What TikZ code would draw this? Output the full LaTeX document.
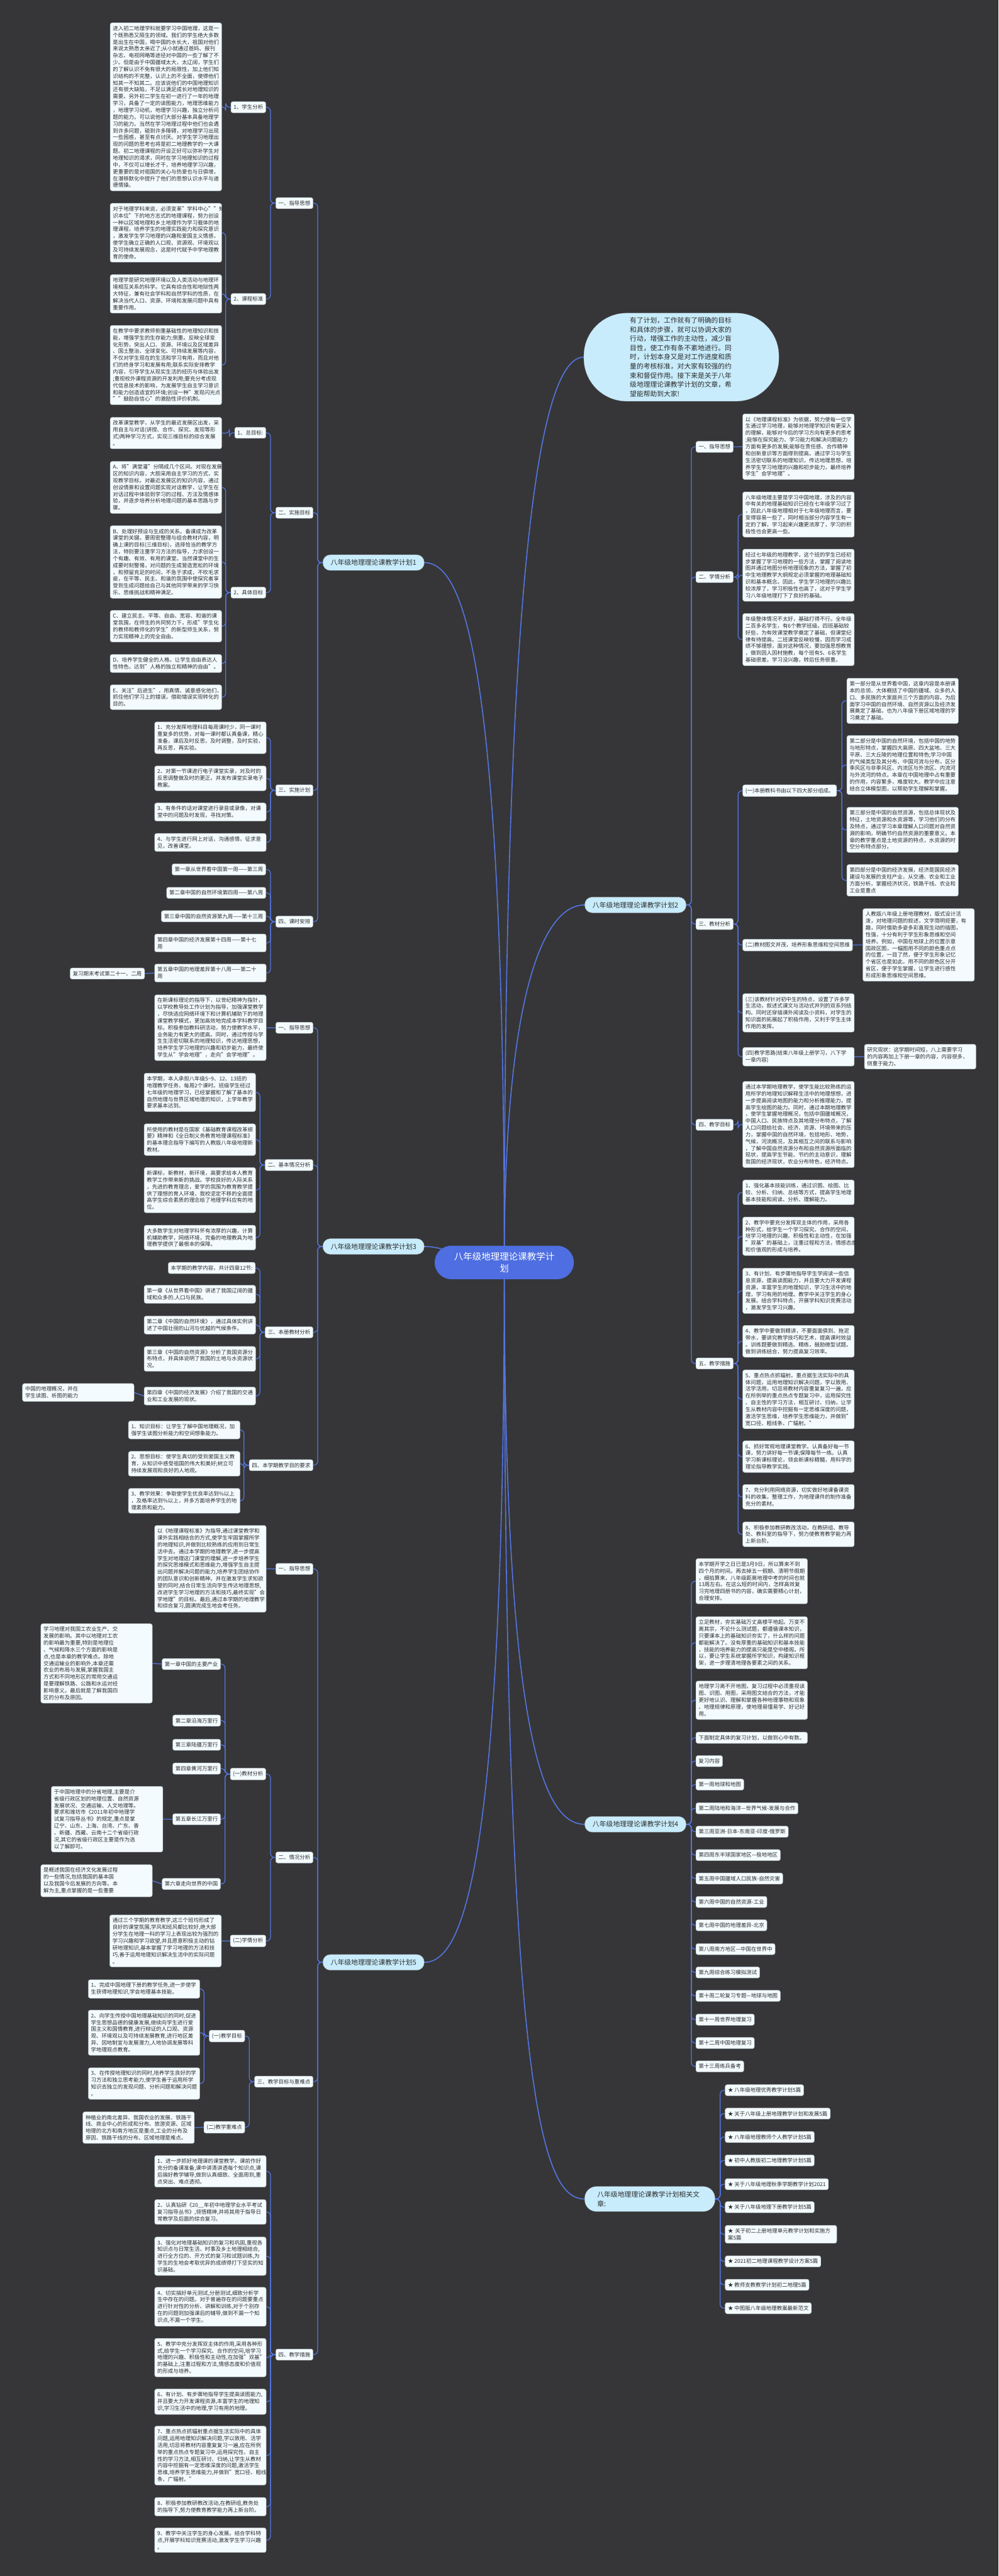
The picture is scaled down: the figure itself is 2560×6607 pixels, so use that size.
\documentclass[tikz,border=0pt]{standalone}
\usepackage{fontspec}
\setmainfont{Noto Sans CJK SC}
\usetikzlibrary{positioning}
\definecolor{bgc}{RGB}{54,54,56}
\definecolor{linkc}{RGB}{84,117,224}
\definecolor{boxc}{RGB}{243,251,254}
\definecolor{boxline}{RGB}{170,180,190}
\definecolor{brc}{RGB}{200,236,251}
\definecolor{rootc}{RGB}{78,110,225}
\definecolor{txtc}{RGB}{45,45,45}
\pgfdeclarelayer{bg}
\pgfsetlayers{bg,main}
\newcommand\mmbody{\fontsize{13.6pt}{17.5pt}\selectfont}
\newcommand\mmbranch{\fontsize{17.5pt}{23.5pt}\selectfont}

\begin{document}
\begin{tikzpicture}[x=1pt,y=-1pt,
    box/.style={draw=boxline, fill=boxc, line width=0.8pt, rounded corners=5pt, inner xsep=7pt, inner ysep=8pt, text width=272pt, align=left, font=\mmbody, text=txtc},
    tag/.style={draw=boxline, fill=boxc, line width=0.8pt, rounded corners=5pt, inner xsep=7pt, inner ysep=8pt, font=\mmbody, text=txtc},
    branch/.style={draw=boxline, fill=brc, line width=0.8pt, rounded corners=19pt, inner xsep=20pt, minimum height=40pt, font=\mmbranch, text=txtc},
    link/.style={draw=linkc, line width=2pt, rounded corners=10pt},
    mainlink/.style={draw=linkc, line width=2.6pt}]
\useasboundingbox (0,0) rectangle (2560,6607);

% root and intro
\node[fill=rootc, text=white, rounded corners=43pt, minimum width=357pt, minimum height=86pt, align=center, font=\fontsize{23.4pt}{31pt}\selectfont] (root) at (1293,3238) {八年级地理理论课教学计\\划};
\node[draw=boxline, fill=brc, rounded corners=110pt, minimum width=500pt, minimum height=226pt, text width=264pt, align=left, font=\fontsize{17.4pt}{23.4pt}\selectfont, text=txtc] (intro) at (1747,916) {有了计划，工作就有了明确的目标\\和具体的步骤，就可以协调大家的\\行动，增强工作的主动性，减少盲\\目性，使工作有条不紊地进行。同\\时，计划本身又是对工作进度和质\\量的考核标准，对大家有较强的约\\束和督促作用。接下来是关于八年\\级地理理论课教学计划的文章，希\\望能帮助到大家!};

% ---------- plan 1 ----------
\node[branch, anchor=east] (p1) at (1088,1443) {八年级地理理论课教学计划1};
\node[tag, anchor=east] (p1a) at (803,521) {一、指导思想};
\node[tag, anchor=east] (p1a1) at (682,275) {1、学生分析};
\node[box, anchor=north west] (p1a1t) at (282,58) {进入初二地理学科就要学习中国地理，这是一\\个既熟悉又陌生的领域。我们的学生绝大多数\\是出生在中国，喝中国的水长大，祖国对他们\\来说太熟悉太亲近了;从小就通过爸妈、报刊\\杂志、电视网略等途径对中国的一些了解了不\\少。但是由于中国疆域太大，太辽阔，学生们\\的了解认识不免有很大的局限性，加上他们知\\识结构的不完整，认识上的不全面，使得他们\\知其一不知其二。应该说他们的中国地理知识\\还有很大缺陷，不足以满足成长对地理知识的\\需要。另外初二学生在初一进行了一年的地理\\学习，具备了一定的读图能力，地理思维能力\\，地理学习动机，地理学习兴趣，独立分析问\\题的能力。可以说他们大部分基本具备地理学\\习的能力。当然在学习地理过程中他们也会遇\\到许多问题，碰到许多障碍，对地理学习出现\\一些困惑，甚至有点讨厌。对学生学习地理出\\现的问题的思考也将是初二地理教学的一大课\\题。初二地理课程的开设正好可以弥补学生对\\地理知识的渴求，同时在学习地理知识的过程\\中，不仅可以增长才干，培养地理学习兴趣，\\更重要的是对祖国的关心与热爱也与日俱增，\\在潜移默化中提升了他们的思想认识水平与道\\德情操。};
\node[tag, anchor=east] (p1a2) at (682,767) {2、课程标准};
\node[box, anchor=north west] (p1a2a) at (282,521) {对于地理学科来说，必须变革"学科中心""知\\识本位"下的地方志式的地理课程，努力创设\\一种以区域地理和乡土地理作为学习载体的地\\理课程，培养学生的地理实践能力和探究意识\\，激发学生学习地理的兴趣和爱国主义情感，\\使学生确立正确的人口观、资源观、环境观以\\及可持续发展观念，这是时代赋予中学地理教\\育的使命。};
\node[box, anchor=north west] (p1a2b) at (282,704) {地理学是研究地理环境以及人类活动与地理环\\境相互关系的科学。它具有综合性和地狱性两\\大特征，兼有社会学科和自然学科的性质，在\\解决当代人口、资源、环境和发展问题中具有\\重要作用。};
\node[box, anchor=north west] (p1a2c) at (282,834) {在教学中要求教师侧重基础性的地理知识和技\\能，增强学生的生存能力;侧重。反映全球变\\化形势，突出人口、资源、环境以及区域差异\\、国土整治、全球变化、可持续发展等内容，\\不仅对学生现在的生活和学习有用，而且对他\\们的终身学习和发展有用;联系实际安排教学\\内容，引导学生从现实生活的经历与体验出发\\;重视校外课程资源的开发利用;要充分考虑现\\代信息技术的影响，为发展学生自主学习意识\\和能力创造适宜的环境;创设一种"发现闪光点\\""鼓励自信心"的激励性评价机制。};
\node[tag, anchor=east] (p1b) at (803,1315) {二、实施目标};
\node[tag, anchor=east] (p1b1) at (682,1110) {1、总目标:};
\node[box, anchor=north west] (p1b1t) at (282,1070) {改革课堂教学，从学生的最近发展区出发，采\\用自主与对话(讲授、合作、探究、发现等形\\式)两种学习方式，实现三维目标的综合发展\\。};
\node[tag, anchor=east] (p1b2) at (682,1520) {2、具体目标};
\node[box, anchor=north west] (p1b2a) at (282,1183) {A、将"满堂灌"分隔成几个区间。对现在发展\\区的知识内容，大胆采用自主学习的方式，实\\现教学目标。对最近发展区的知识内容，通过\\创设情景和设置问题实现对话教学，让学生在\\对话过程中体验到学习的过程、方法及情感体\\验，并逐步培养分析地理问题的基本思路与步\\骤。};
\node[box, anchor=north west] (p1b2b) at (282,1348) {B、处理好预设与生成的关系。备课成为改革\\课堂的关键。要周密整理与组合教材内容，明\\确上课的目标(三维目标)，选择恰当的教学方\\法，特别要注重学习方法的指导，力求创设一\\个有趣、有效、有用的课堂。当然课堂中的生\\成要时刻警惕，对问题的生成营造宽松的环境\\，和预留充足的时间，不急于求成，不吹毛求\\疵，在平等、民主、和谐的氛围中使探究者享\\受到生成问题给自己与其他同学带来的学习快\\乐、思维挑战和精神满足。};
\node[box, anchor=north west] (p1b2c) at (282,1565) {C、建立民主、平等、自由、宽容、和谐的课\\堂氛围，在师生的共同努力下，形成"学生化\\的教师和教师化的学生"的新型师生关系，努\\力实现精神上的完全自由。};
\node[box, anchor=north west] (p1b2d) at (282,1678) {D、培养学生健全的人格，让学生自由表达人\\性特色，达到"人格的独立和精神的自由"。};
\node[box, anchor=north west] (p1b2e) at (282,1756) {E、关注"后进生"，用真情、诚意感化他们，\\抓住他们学习上的错误，借助错误实现转化的\\目的。};
\node[tag, anchor=east] (p1c) at (803,2027) {三、实施计划};
\node[box, anchor=north west] (p1c1) at (396,1851) {1、充分发挥地理科目每周课时少，同一课时\\重复多的优势，对每一课时都认真备课，精心\\准备，课后及时反思，及时调整，及时实验，\\再反思，再实验。};
\node[box, anchor=north west] (p1c2) at (396,1964) {2、对第一节课进行电子课堂实录，对及时的\\反思调整做及时的更正。并发布课堂实录电子\\教案。};
\node[box, anchor=north west] (p1c3) at (396,2059) {3、有条件的话对课堂进行录音或录像，对课\\堂中的问题及时发现，寻找对策。};
\node[box, anchor=north west] (p1c4) at (396,2137) {4、与学生进行网上对话，沟通感情，征求意\\见，改善课堂。};
\node[tag, anchor=east] (p1d) at (803,2364) {四、课时安排};
\node[tag, anchor=east] (p1d1) at (682,2230) {第一章从世界看中国第一周——第三周};
\node[tag, anchor=east] (p1d2) at (682,2290) {第二章中国的自然环境第四周——第八周};
\node[tag, anchor=east] (p1d3) at (682,2350) {第三章中国的自然资源第九周——第十三周};
\node[box, anchor=north west] (p1d4) at (396,2395) {第四章中国的经济发展第十四周——第十七\\周};
\node[box, anchor=north west] (p1d5) at (396,2472) {第五章中国的地理差异第十八周——第二十\\周};
\node[tag, anchor=east] (p1d5x) at (371,2497) {复习期末考试第二十一、二周};

% ---------- plan 3 ----------
\node[branch, anchor=east] (p3) at (1088,3197) {八年级地理理论课教学计划3};
\node[tag, anchor=east] (p3a) at (803,2636) {一、指导思想};
\node[box, anchor=north west] (p3at) at (396,2551) {在新课标理论的指导下，以世纪精神为指针，\\以学校教导处工作计划为指导，加强课堂教学\\，尽快适应网络环境下和计算机辅助下的地理\\课堂教学模式，更加高效地完成本学科教学目\\标。积极参加教科研活动，努力使教学水平，\\业务能力有更大的提高。同时，通过传授与学\\生生活密切联系的地理知识，传达地理思想，\\培养学生学习地理的兴趣和初步能力，最终使\\学生从"学会地理"，走向"会学地理"。};
\node[tag, anchor=east] (p3b) at (803,2988) {二、基本情况分析};
\node[box, anchor=north west] (p3b1) at (369,2752) {本学期，本人承担八年级5\textasciitilde9、12、13班的\\地理教学任务，每周2个课时。班级学生经过\\七年级的地理学习，已经掌握和了解了基本的\\自然地理与世界区域地理的知识，上学年教学\\要求基本达到。};
\node[box, anchor=north west] (p3b2) at (369,2882) {所使用的教材是在国家《基础教育课程改革纲\\要》精神和《全日制义务教育地理课程标准》\\的基本理念指导下编写的人教版八年级地理新\\教材。};
\node[box, anchor=north west] (p3b3) at (369,2994) {新课标，新教材，新环境，高要求给本人教育\\教学工作带来新的挑战。学校良好的人际关系\\，先进的教育理念，爱学的氛围为教育教学提\\供了理想的育人环境，我校坚定不移的全面提\\高学生综合素质的理念给了地理学科应有的地\\位。};
\node[box, anchor=north west] (p3b4) at (369,3142) {大多数学生对地理学科怀有浓厚的兴趣，计算\\机辅助教学，网络环境，完备的地理教具为地\\理教学提供了最根本的保障。};
\node[tag, anchor=east] (p3c) at (803,3417) {三、本册教材分析};
\node[tag, anchor=east] (p3c0) at (655,3252) {本学期的教学内容，共计四章12节:};
\node[box, anchor=north west] (p3c1) at (369,3296) {第一章《从世界看中国》讲述了我国辽阔的疆\\域和众多的.人口与民族。};
\node[box, anchor=north west] (p3c2) at (369,3375) {第二章《中国的自然环境》，通过具体实例讲\\述了中国壮丽的山河与优越的气候条件。};
\node[box, anchor=north west] (p3c3) at (369,3453) {第三章《中国的自然资源》分析了我国资源分\\布特点，并具体说明了我国的土地与水资源状\\况。};
\node[box, anchor=north west] (p3c4) at (369,3557) {第四章《中国的经济发展》介绍了我国的交通\\业和工业发展的现状。};
\node[box, anchor=north east] (p3c4x) at (344,3548) {中国的地理概况，并在\\学生读图、析图的能力\\};
\node[tag, anchor=east] (p3d) at (803,3758) {四、本学期教学目的要求};
\node[box, anchor=north west] (p3d1) at (329,3644) {1、知识目标：让学生了解中国地理概况，加\\强学生读图分析能力和空间想象能力。};
\node[box, anchor=north west] (p3d2) at (329,3722) {2、思想目标：使学生真切的受到爱国主义教\\育，从知识中感受祖国的伟大和美好;树立可\\持续发展观和良好的人地观。};
\node[box, anchor=north west] (p3d3) at (329,3817) {3、教学效果：争取使学生优良率达到\%以上\\，及格率达到\%以上，并多方面培养学生的地\\理素质和能力。};

% ---------- plan 5 ----------
\node[branch, anchor=east] (p5) at (1088,5033) {八年级地理理论课教学计划5};
\node[tag, anchor=east] (p5a) at (803,4024) {一、指导思想};
\node[box, anchor=north west] (p5at) at (396,3912) {以《地理课程标准》为指导,通过课堂教学和\\课外实践相结合的方式,使学生牢固掌握所学\\的地理知识,并做到比较熟练的应用到日常生\\活中去。通过本学期的地理教学,进一步提高\\学生对地理这门课堂的理解,进一步培养学生\\的探究思维模式和思维能力,增强学生自主提\\出问题并解决问题的能力,培养学生团结协作\\的团队意识和创新精神。并在激发学生求知欲\\望的同时,结合日常生活向学生传达地理思想,\\改进学生学习地理的方法和技巧,最终实现"会\\学地理"的目标。最后,通过本学期的地理教学\\和综合复习,圆满完成生地会考任务。};
\node[tag, anchor=east] (p5b) at (803,4764) {二、情况分析};
\node[tag, anchor=east] (p5b1) at (682,4550) {(一)教材分析};
\node[tag, anchor=east] (p5k1) at (566,4268) {第一章中国的主要产业};
\node[tag, anchor=east] (p5k2) at (566,4413) {第二章沿海万里行};
\node[tag, anchor=east] (p5k3) at (566,4475) {第三章陆疆万里行};
\node[tag, anchor=east] (p5k4) at (566,4536) {第四章黄河万里行};
\node[tag, anchor=east] (p5k5) at (566,4666) {第五章长江万里行};
\node[tag, anchor=east] (p5k6) at (566,4832) {第六章走向世界的中国};
\node[box, anchor=north east] (p5k1x) at (391,4164) {学习地理对我国工农业生产、交\\发展的影响。其中以地理对工农\\的影响最为重要,特别是地理位\\、气候和降水三个方面的影响是\\点,也是本章的教学难点。除地\\交通运输业的影响外,本章还需\\农业的布局与发展,掌握我国主\\方式和不同地形区的常用交通运\\是要理解铁路、公路和水运对经\\影响意义。最后就是了解我国四\\区的分布及原因。};
\node[box, anchor=north east] (p5k5x) at (418,4581) {于中国地理中的分省地理,主要是介\\省级行政区划的地理位置、自然资源\\发展状况、交通运输、人文地理等。\\要求和潍坊市《2011年初中地理学\\试复习指导丛书》的规定,重点是掌\\辽宁、山东、上海、台湾、广东、香\\、新疆、西藏、云南十二个省级行政\\况,其它的省级行政区主要是作为选\\以了解即可。};
\node[box, anchor=north east] (p5k6x) at (391,4782) {是概述我国在经济文化发展过程\\的一些情况,包括我国的基本国\\以及我国今后发展的方向等。本\\解为主,重点掌握的是一些重要\\};
\node[tag, anchor=east] (p5b2) at (682,4978) {(二)学情分析};
\node[box, anchor=north west] (p5b2t) at (281,4911) {通过三个学期的教育教学,这三个班均形成了\\良好的课堂氛围,学风和班风都比较好,绝大部\\分学生在地理一科的学习上表现出较为强烈的\\学习兴趣和学习欲望,并且愿意积极主动的钻\\研地理知识,基本掌握了学习地理的方法和技\\巧,善于运用地理知识解决生活中的实际问题\\。};
\node[tag, anchor=east] (p5c) at (803,5339) {三、教学目标与重难点};
\node[tag, anchor=east] (p5c1) at (628,5222) {(一)教学目标};
\node[box, anchor=north west] (p5c1a) at (226,5077) {1、完成中国地理下册的教学任务,进一步使学\\生获得地理知识,学会地理基本技能。};
\node[box, anchor=north west] (p5c1b) at (226,5155) {2、向学生传授中国地理基础知识的同时,促进\\学生思想品德的健康发展,继续向学生进行爱\\国主义和国情教育,进行辩证的人口观、资源\\观、环境观以及可持续发展教育,进行地区差\\异、因地制宜与发展潜力,人地协调发展等科\\学地理观点教育。};
\node[box, anchor=north west] (p5c1c) at (226,5303) {3、在传授地理知识的同时,培养学生良好的学\\习方法和独立思考能力,使学生善于运用所学\\知识去独立的发现问题、分析问题和解决问题\\。};
\node[tag, anchor=east] (p5c2) at (628,5456) {(二)教学重难点};
\node[box, anchor=north west] (p5c2t) at (212,5416) {种植业的南北差异、我国农业的发展、铁路干\\线、商业中心的形成和分布、旅游资源、区域\\地理的北方和南方地区是重点,工业的分布及\\原因、铁路干线的分布、区域地理是难点。};
\node[tag, anchor=east] (p5d) at (803,6039) {四、教学措施};
\node[box, anchor=north west] (p5d1) at (396,5528) {1、进一步抓好地理课的课堂教学。课前作好\\充分的备课准备,课中讲清讲透每个知识点,课\\后搞好教学辅导,做到认真细致、全面周到,重\\点突出、难点透彻。};
\node[box, anchor=north west] (p5d2) at (396,5641) {2、认真钻研《20\_\_年初中地理学业水平考试\\复习指导丛书》,领悟精神,并将其用于指导日\\常教学及后面的综合复习。};
\node[box, anchor=north west] (p5d3) at (396,5737) {3、强化对地理基础知识的复习和巩固,重视各\\知识点与日常生活、时事及乡土地理相结合,\\进行全方位的、开方式的复习和试题训练,为\\学生的生地会考取优异的成绩得打下坚实的知\\识基础。};
\node[box, anchor=north west] (p5d4) at (396,5866) {4、切实搞好单元测试,分册测试,细致分析学\\生中存在的问题。对于普遍存在的问题要重点\\进行针对性的分析、讲解和训练,对于个别存\\在的问题则加强课后的辅导,做到不漏一个知\\识点,不漏一个学生。};
\node[box, anchor=north west] (p5d5) at (396,5997) {5、教学中充分发挥双主体的作用,采用各种形\\式,给学生一个学习探究、合作的空间,培学习\\地理的兴趣、积极性和主动性,在加强"双基"\\的基础上,注重过程和方法,情感态度和价值观\\的形成与培养。};
\node[box, anchor=north west] (p5d6) at (396,6127) {6、有计划、有步骤地指导学生提高读图能力,\\并且要大力开发课程资源,丰富学生的地理知\\识,学习生活中的地理,学习有用的地理。};
\node[box, anchor=north west] (p5d7) at (396,6222) {7、重点热点抓辐射重点据生活实际中的具体\\问题,运用地理知识解决问题,学以致用、活学\\活用,切忌将教材内容重复复习一遍,应在所例\\举的重点热点专题复习中,运用探究性、自主\\性的学习方法,相互研讨、归纳,让学生从教材\\内容中挖掘有一定思维深度的问题,激活学生\\思维,培养学生思维能力,并做到"宽口径、粗线\\条、广辐射。"};
\node[box, anchor=north west] (p5d8) at (396,6405) {8、积极参加教研教改活动,在教研组,教务处\\的指导下,努力使教育教学能力再上新台阶。};
\node[box, anchor=north west] (p5d9) at (396,6483) {9、教学中关注学生的身心发展。结合学科特\\点,开展学科知识竞赛活动,激发学生学习兴趣\\。};

% ---------- plan 2 ----------
\node[branch, anchor=west] (p2) at (1499,2321) {八年级地理理论课教学计划2};
\node[tag, anchor=west] (p2a) at (1784,1146) {一、指导思想};
\node[box, anchor=north west] (p2at) at (1904,1061) {以《地理课程标准》为依据，努力使每一位学\\生通过学习地理，能够对地理学知识有更深入\\的理解，能够对今后的学习方向有更多的思考\\;能够在探究能力、学习能力和解决问题能力\\方面有更多的发展;能够在责任感、合作精神\\和创新意识等方面得到提高。通过学习与学生\\生活密切联系的地理知识，传达地理思想，培\\养学生学习地理的兴趣和初步能力，最终培养\\学生"会学地理"。};
\node[tag, anchor=west] (p2b) at (1784,1480) {二、学情分析};
\node[box, anchor=north west] (p2b1) at (1904,1261) {八年级地理主要是学习中国地理，涉及的内容\\中有关的地理基础知识已经在七年级学习过了\\，因此八年级地理相对于七年级地理而言，要\\变得容易一些了，同时相当部分内容学生有一\\定的了解，学习起来兴趣更浓厚了，学习的积\\极性也会更高一些。};
\node[box, anchor=north west] (p2b2) at (1904,1408) {经过七年级的地理教学，这个班的学生已经初\\步掌握了学习地理的一些方法，掌握了阅读地\\图并通过地图分析地理现象的方法，掌握了初\\中生地理教学大纲规定必须掌握的地理基础知\\识和基本概念。因此，学生学习地理的兴趣比\\较浓厚了，学习积极性也高了，这对于学生学\\习八年级地理打下了良好的基础。};
\node[box, anchor=north west] (p2b3) at (1904,1573) {年级整体情况不太好，基础打得不行。全年级\\二百多名学生，有6个教学班级。四班基础较\\好些，为有效课堂教学奠定了基础，但课堂纪\\律有待提高。二班课堂反映较慢，因而学习成\\绩不够理想，面对这种情况，要加强思想教育\\，做到因人因材施教，每个班有5、6名学生\\基础很差，学习没兴趣，转后任务很重。};
\node[tag, anchor=west] (p2c) at (1784,2370) {三、教材分析};
\node[tag, anchor=west] (p2c1) at (1904,2028) {(一)本册教科书由以下四大部分组成。};
\node[box, anchor=north west] (p2q1) at (2171,1739) {第一部分是从世界看中国，这章内容是本册课\\本的总领，大体概括了中国的疆域、众多的人\\口、多民族的大家庭共三个方面的内容。为后\\面学习中国的自然环境、自然资源以及经济发\\展奠定了基础，也为八年级下册区域地理的学\\习奠定了基础。};
\node[box, anchor=north west] (p2q2) at (2171,1886) {第二部分是中国的自然环境，包括中国的地势\\与地形特点，掌握四大高原、四大盆地、三大\\平原、三大丘陵的地理位置和特色;学习中国\\的气候类型及其分布，中国河流与分布，区分\\季风区与非季风区、内流区与外流区、内流河\\与外流河的特点。本章在中国地理中占有重要\\的作用，内容繁多，难度较大。教学中应注意\\结合立体模型图，以帮助学生理解和掌握。};
\node[box, anchor=north west] (p2q3) at (2171,2070) {第三部分是中国的自然资源，包括总体现状及\\特征，土地资源和水资源等，学习他们的分布\\及特点，通过学习本章理解人口问题对自然资\\源的影响，明确节约自然资源的重要意义。本\\章的教学重点是土地资源的特点，水资源的时\\空分布特点部分。};
\node[box, anchor=north west] (p2q4) at (2171,2217) {第四部分是中国的经济发展，经济是国民经济\\建设与发展的支柱产业，从交通、农业和工业\\方面分析，掌握经济状况，铁路干线、农业和\\工业是重点};
\node[tag, anchor=west] (p2c2) at (1904,2424) {(二)教材图文并茂，培养形象思维和空间思维};
\node[box, anchor=north west] (p2c2t) at (2212,2330) {人教版八年级上册地理教材，版式设计活\\泼，对地理问题的叙述，文字简明扼要，有\\趣，同时借助多姿多彩直观生动的插图，\\性强，十分有利于学生形象思维和空间\\培养。例如，中国在地球上的位置示意\\国政区图，一幅图用不同的颜色重点点\\的位置，一目了然，便于学生形象记忆\\个省区也是如此，用不同的颜色区分开\\省区，便于学生掌握，让学生进行感性\\形成形象思维和空间思维。};
\node[box, anchor=north west] (p2c3) at (1904,2548) {(三)该教材针对初中生的特点，设置了许多学\\生活动，叙述式课文与活动式并列的双系列结\\构。同时还穿插课外阅读及小资料，对学生的\\知识面的拓展起了积极作用，又利于学生主体\\作用的发挥。};
\node[box, anchor=north west] (p2c4) at (1904,2686) {(四)教学思路(结束八年级上册学习，八下学\\一章内容)};
\node[box, anchor=north west] (p2c4t) at (2216,2678) {研究现状：这学期时间短，八上需要学习\\的内容再加上下册一章的内容，内容很多，\\侧重于能力。};
\node[tag, anchor=west] (p2d) at (1784,2885) {四、教学目标};
\node[box, anchor=north west] (p2dt) at (1904,2773) {通过本学期地理教学，使学生能比较熟练的运\\用所学的地理知识解释生活中的地理想想，进\\一步提高阅读地图的能力和分析推理能力，提\\高学生绘图的能力。同时，通过本期地理教学\\，使学生掌握地理概况，包括中国疆域概况，\\中国人口、民族特点及其地理分布特点，了解\\人口问题给社会、经济、资源、环境带来的压\\力，掌握中国的自然环境，包括地形、地势，\\气候，河流概况，及其相互之间的联系与影响\\，了解中国自然资源分布和自然资源所面临的\\现状，提高学生节能、节约的主动意识，理解\\我国的经济现状，农业分布特色，经济特点。};
\node[tag, anchor=west] (p2e) at (1784,3497) {五、教学措施};
\node[box, anchor=north west] (p2e1) at (1904,3026) {1、强化基本技能训练，通过识图、绘图、比\\较、分析、归纳、总结等方式，提高学生地理\\基本技能和阅读、分析、理解能力。};
\node[box, anchor=north west] (p2e2) at (1904,3121) {2、教学中要充分发挥双主体的作用，采用各\\种形式，给学生一个学习探究、合作的空间，\\培学习地理的兴趣、积极性和主动性，在加强\\"双基"的基础上，注重过程和方法，情感态度\\和价值观的形成与培养。};
\node[box, anchor=north west] (p2e3) at (1904,3252) {3、有计划、有步骤地指导学生学阅读一些信\\息资源，提高读图能力，并且要大力开发课程\\资源，丰富学生的地理知识，学习生活中的地\\理，学习有用的地理。教学中关注学生的身心\\发展。结合学科特点，开展学科知识竞赛活动\\，激发学生学习兴趣。};
\node[box, anchor=north west] (p2e4) at (1904,3399) {4、教学中要做到精讲，不要面面俱到、拖泥\\带水，要讲究教学技巧和艺术，提高课时效益\\。训练题要做到精选、精练，鼓励微型试题。\\做到讲练结合，努力提高复习效率。};
\node[box, anchor=north west] (p2e5) at (1904,3513) {5、重点热点抓辐射。重点据生活实际中的具\\体问题，运用地理知识解决问题，学以致用、\\活学活用，切忌将教材内容重复复习一遍，应\\在所例举的重点热点专题复习中，运用探究性\\、自主性的学习方法，相互研讨、归纳，让学\\生从教材内容中挖掘有一定思维深度的问题，\\激活学生思维，培养学生思维能力，并做到"\\宽口径、粗线条、广辐射。"};
\node[box, anchor=north west] (p2e6) at (1904,3695) {6、抓好常规地理课堂教学。认真备好每一节\\课，努力讲好每一节课;保障每节一练。认真\\学习新课标理论，领会新课标精髓，用科学的\\理论指导教学实践。};
\node[box, anchor=north west] (p2e7) at (1904,3807) {7、充分利用网络资源，切实做好地课备课资\\料的收集，整理工作，为地理课件的制作准备\\充分的素材。};
\node[box, anchor=north west] (p2e8) at (1904,3903) {8、积极参加教研教改活动，在教研组、教导\\处、教科室的指导下，努力使教育教学能力再\\上新台阶。};

% ---------- plan 4 ----------
\node[branch, anchor=west] (p4) at (1499,4679) {八年级地理理论课教学计划4};
\node[box, anchor=north west] (p4a) at (1784,3997) {本学期开学之日已是3月9日，所以算来不到\\四个月的时间。再去掉五一假期、清明节假期\\，细掐算来，八年级距离地理中考的时间也就\\13周左右。在这么短的时间内，怎样高效复\\习完地理四册书的内容，确实需要精心计划，\\合理安排。};
\node[box, anchor=north west] (p4b) at (1784,4146) {立足教材，夯实基础万丈高楼平地起。万变不\\离其宗，不论什么测试题，都遵循课本知识，\\只要课本上的基础知识夯实了，什么样的问题\\都能解决了。没有厚重的基础知识和基本技能\\，技能的培养能力的提高只能是空中楼阁。所\\以，要让学生系统掌握所学知识，构建知识框\\架，进一步理清地理各要素之间的关系。};
\node[box, anchor=north west] (p4c) at (1784,4311) {地理学习离不开地图，复习过程中必须重视读\\图、识图、用图，采用图文结合的方法，才能\\更好地认识、理解和掌握各种地理事物和现象\\、地理规律和原理，使地理易懂易学、好记好\\用。};
\node[tag, anchor=west] (p4d) at (1784,4457) {下面制定具体的复习计划，以做到心中有数。};
\node[tag, anchor=west] (p4e) at (1784,4517) {复习内容};
\node[tag, anchor=west] (p4f) at (1784,4577) {第一周地球和地图};
\node[tag, anchor=west] (p4g) at (1784,4638) {第二周陆地和海洋—世界气候-发展与合作};
\node[tag, anchor=west] (p4h) at (1784,4698) {第三周亚洲-日本-东南亚-印度-俄罗斯};
\node[tag, anchor=west] (p4i) at (1784,4758) {第四周东半球国家地区—极地地区};
\node[tag, anchor=west] (p4j) at (1784,4818) {第五周中国疆域人口民族-自然灾害};
\node[tag, anchor=west] (p4k) at (1784,4878) {第六周中国的自然资源-工业};
\node[tag, anchor=west] (p4l) at (1784,4938) {第七周中国的地理差异-北京};
\node[tag, anchor=west] (p4m) at (1784,4999) {第八周南方地区—中国在世界中};
\node[tag, anchor=west] (p4n) at (1784,5059) {第九周综合练习模拟测试};
\node[tag, anchor=west] (p4o) at (1784,5119) {第十周二轮复习专题—地球与地图};
\node[tag, anchor=west] (p4p) at (1784,5180) {第十一周世界地理复习};
\node[tag, anchor=west] (p4q) at (1784,5240) {第十二周中国地理复习};
\node[tag, anchor=west] (p4r) at (1784,5300) {第十三周练兵备考};

% ---------- related ----------
\node[draw=boxline, fill=brc, rounded corners=30pt, minimum height=64pt, inner xsep=32pt, text width=270pt, align=left, font=\mmbranch, text=txtc, anchor=west] (rel) at (1499,5640) {八年级地理理论课教学计划相关文\\章:};
\node[tag, anchor=west] (r1) at (1859,5361) {★ 八年级地理优秀教学计划5篇};
\node[tag, anchor=west] (r2) at (1859,5421) {★ 关于八年级上册地理教学计划和发展5篇};
\node[tag, anchor=west] (r3) at (1859,5481) {★ 八年级地理教师个人教学计划5篇};
\node[tag, anchor=west] (r4) at (1859,5541) {★ 初中人教版初二地理教学计划5篇};
\node[tag, anchor=west] (r5) at (1859,5602) {★ 关于八年级地理秋季学期教学计划2021};
\node[tag, anchor=west] (r6) at (1859,5661) {★ 关于八年级地理下册教学计划5篇};
\node[box, anchor=north west] (r7) at (1859,5707) {★ 关于初二上册地理单元教学计划和实施方\\案5篇};
\node[tag, anchor=west] (r8) at (1859,5800) {★ 2021初二地理课程教学设计方案5篇};
\node[tag, anchor=west] (r9) at (1859,5860) {★ 教师支教教学计划初二地理5篇};
\node[tag, anchor=west] (r10) at (1859,5920) {★ 中图版八年级地理教案最新范文};

% ---------- connectors ----------
\begin{pgfonlayer}{bg}
\fill[bgc] (0,0) rectangle (2560,6607);
\draw[mainlink] (root.center) .. controls (1293,1300) and (1400,916) .. (intro.west);
\draw[mainlink] (root.center) .. controls (1293,2560) and (1390,2321) .. (p2.west);
\draw[mainlink] (root.center) .. controls (1293,4440) and (1390,4679) .. (p4.west);
\draw[mainlink] (root.center) .. controls (1293,5380) and (1390,5640) .. (rel.west);
\draw[mainlink] (root.center) .. controls (1293,1700) and (1190,1443) .. (p1.east);
\draw[mainlink] (root.center) .. controls (1293,4780) and (1190,5033) .. (p5.east);
\draw[mainlink] (root.center) .. controls (1200,3238) and (1150,3197) .. (p3.east);
% left side
\foreach \c in {p1a,p1b,p1c,p1d} \draw[link] (p1.west) -- ++(-13,0) |- (\c.east);
\foreach \c in {p1a1,p1a2} \draw[link] (p1a.west) -- ++(-13,0) |- (\c.east);
\draw[link] (p1a1.west) -- ++(-13,0) |- (p1a1t.east);
\foreach \c in {p1a2a,p1a2b,p1a2c} \draw[link] (p1a2.west) -- ++(-13,0) |- (\c.east);
\foreach \c in {p1b1,p1b2} \draw[link] (p1b.west) -- ++(-13,0) |- (\c.east);
\draw[link] (p1b1.west) -- ++(-13,0) |- (p1b1t.east);
\foreach \c in {p1b2a,p1b2b,p1b2c,p1b2d,p1b2e} \draw[link] (p1b2.west) -- ++(-13,0) |- (\c.east);
\foreach \c in {p1c1,p1c2,p1c3,p1c4} \draw[link] (p1c.west) -- ++(-13,0) |- (\c.east);
\foreach \c in {p1d1,p1d2,p1d3,p1d4,p1d5} \draw[link] (p1d.west) -- ++(-13,0) |- (\c.east);
\draw[link] (p1d5.west) -- (p1d5x.east);
\foreach \c in {p3a,p3b,p3c,p3d} \draw[link] (p3.west) -- ++(-13,0) |- (\c.east);
\draw[link] (p3a.west) -- (p3at.east);
\foreach \c in {p3b1,p3b2,p3b3,p3b4} \draw[link] (p3b.west) -- ++(-13,0) |- (\c.east);
\foreach \c in {p3c0,p3c1,p3c2,p3c3,p3c4} \draw[link] (p3c.west) -- ++(-13,0) |- (\c.east);
\draw[link] (p3c4.west) -- (p3c4x.east);
\foreach \c in {p3d1,p3d2,p3d3} \draw[link] (p3d.west) -- ++(-13,0) |- (\c.east);
\foreach \c in {p5a,p5b,p5c,p5d} \draw[link] (p5.west) -- ++(-13,0) |- (\c.east);
\draw[link] (p5a.west) -- (p5at.east);
\foreach \c in {p5b1,p5b2} \draw[link] (p5b.west) -- ++(-13,0) |- (\c.east);
\foreach \c in {p5k1,p5k2,p5k3,p5k4,p5k5,p5k6} \draw[link] (p5b1.west) -- ++(-13,0) |- (\c.east);
\foreach \c in {p5k1,p5k5,p5k6} \draw[link] (\c.west) -- (\c x.east);
\draw[link] (p5b2.west) -- (p5b2t.east);
\foreach \c in {p5c1,p5c2} \draw[link] (p5c.west) -- ++(-13,0) |- (\c.east);
\foreach \c in {p5c1a,p5c1b,p5c1c} \draw[link] (p5c1.west) -- ++(-13,0) |- (\c.east);
\draw[link] (p5c2.west) -- (p5c2t.east);
\foreach \c in {p5d1,p5d2,p5d3,p5d4,p5d5,p5d6,p5d7,p5d8,p5d9} \draw[link] (p5d.west) -- ++(-13,0) |- (\c.east);
% right side
\foreach \c in {p2a,p2b,p2c,p2d,p2e} \draw[link] (p2.east) -- ++(13,0) |- (\c.west);
\draw[link] (p2a.east) -- (p2at.west);
\foreach \c in {p2b1,p2b2,p2b3} \draw[link] (p2b.east) -- ++(12,0) |- (\c.west);
\foreach \c in {p2c1,p2c2,p2c3,p2c4} \draw[link] (p2c.east) -- ++(12,0) |- (\c.west);
\foreach \c in {p2q1,p2q2,p2q3,p2q4} \draw[link] (p2c1.east) -- ++(13,0) |- (\c.west);
\draw[link] (p2c2.east) -- (p2c2t.west);
\draw[link] (p2c4.east) -- (p2c4t.west);
\draw[link] (p2d.east) -- ++(12,0) |- (p2dt.west);
\foreach \c in {p2e1,p2e2,p2e3,p2e4,p2e5,p2e6,p2e7,p2e8} \draw[link] (p2e.east) -- ++(12,0) |- (\c.west);
\foreach \c in {p4a,p4b,p4c,p4d,p4e,p4f,p4g,p4h,p4i,p4j,p4k,p4l,p4m,p4n,p4o,p4p,p4q,p4r} \draw[link] (p4.east) -- ++(13,0) |- (\c.west);
\foreach \c in {r1,r2,r3,r4,r5,r6,r7,r8,r9,r10} \draw[link] (rel.east) -- ++(13,0) |- (\c.west);
\end{pgfonlayer}
\end{tikzpicture}
\end{document}
